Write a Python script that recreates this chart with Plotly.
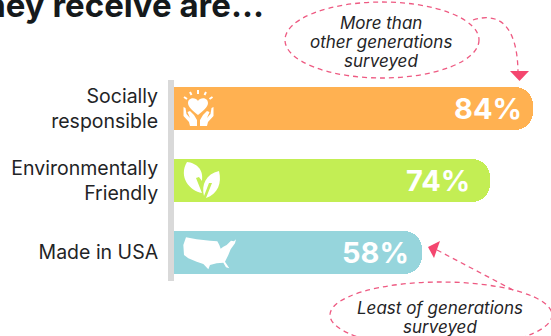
import plotly.graph_objects as go

categories = ["Socially<br>responsible", "Environmentally<br>Friendly", "Made in USA"]
values = [84, 74, 58]
bar_colors = ["#FFB151", "#C3EE54", "#96D5DC"]
value_labels = ["84%", "74%", "58%"]
label_insets = [9, 18, 11]
top_note = ["More than", "other generations", "surveyed"]
bottom_note = ["Least of generations", "surveyed"]

W, H = 551, 336
LEFT, TOP, BOTTOM = 174, 80, 281
PX_PER_PCT = 359 / 84
PINK = "#EE5A82"
ARROW = "#F4466F"
TEXT = "#1F2426"
FONT = "Inter"


def fx(x):
    return (x - LEFT) / (W - LEFT)


def fy(y):
    return 1 - (y - TOP) / (BOTTOM - TOP)


def path(points, close=True):
    d = "M" + " L".join(f"{fx(x):.5f},{fy(y):.5f}" for x, y in points)
    return d + (" Z" if close else "")


def paper_shape(d, fill="white", line=None, width=0, dash=None):
    return dict(type="path", xref="paper", yref="paper", path=d, fillcolor=fill, layer="above",
                line=dict(color=line or "rgba(0,0,0,0)", width=width, dash=dash or "solid"))


def curve(*cmds):
    out = []
    for c, pts in cmds:
        out.append(c + " ".join(f"{fx(x):.5f},{fy(y):.5f}" for x, y in pts))
    return " ".join(out)


shapes = []

# Heart held by two hands
for a, b in [((190, 92), (191.5, 95)), ((198, 90), (198, 94)), ((206, 92), (204.5, 95)),
             ((184, 97), (187, 99)), ((212.5, 97), (209.5, 99))]:
    shapes.append(paper_shape(path([a, b], False), fill="rgba(0,0,0,0)", line="white", width=2))
shapes.append(paper_shape(curve(
    ("M", [(198, 115)]),
    ("C", [(193, 111), (188, 107), (188, 103)]),
    ("C", [(188, 97), (196, 97), (198, 101)]),
    ("C", [(200, 97), (208, 97), (208, 103)]),
    ("C", [(208, 107), (203, 111), (198, 115)]),
) + " Z"))
for sign in (-1, 1):
    hand = [(15, 107), (13, 108), (12, 114), (8.5, 118), (11, 112), (8.5, 111), (4.5, 115),
            (1.5, 120), (1.5, 126), (8.5, 126), (9.5, 122), (15, 116)]
    shapes.append(paper_shape(path([(198.5 + sign * dx, y) for dx, y in hand])))

# Two leaves with cut-in veins
shapes.append(paper_shape(curve(
    ("M", [(187, 162)]),
    ("C", [(196, 163), (204, 169), (202, 181)]),
    ("L", [(199, 177)]),
    ("L", [(196, 178)]),
    ("L", [(202, 193)]),
    ("C", [(190, 191), (178, 177), (187, 162)]),
) + " Z"))
shapes.append(paper_shape(curve(
    ("M", [(219, 171)]),
    ("C", [(222, 183), (218, 194), (206, 198)]),
    ("L", [(212, 183)]),
    ("L", [(209, 183)]),
    ("L", [(204, 196)]),
    ("C", [(201, 185), (206, 174), (219, 171)]),
) + " Z"))

# United States silhouette
usa = [(78, 262), (110, 268), (150, 272), (172, 274), (178, 285), (182, 296), (190, 290),
       (200, 285), (213, 272), (222, 274), (228, 268), (225, 280), (212, 298), (205, 315),
       (195, 335), (208, 355), (198, 352), (190, 338), (170, 340), (150, 345), (145, 358),
       (130, 342), (110, 335), (85, 325), (72, 315), (70, 285)]
shapes.append(paper_shape(path([(160 + x / 3, 150 + y / 3) for x, y in usa])))

# Dashed callouts
for cx, cy, rx, ry in [(382, 40, 97, 38), (441, 315, 111, 33)]:
    shapes.append(dict(type="circle", xref="paper", yref="paper",
                       x0=fx(cx - rx), x1=fx(cx + rx), y0=fy(cy + ry), y1=fy(cy - ry),
                       line=dict(color=PINK, width=1.3, dash="5px,4px"), layer="above"))

shapes.append(paper_shape(curve(
    ("M", [(473, 20)]),
    ("C", [(498, 12), (517, 24), (518, 71)]),
), fill="rgba(0,0,0,0)", line=PINK, width=1.3, dash="5px,4px"))
shapes.append(paper_shape(path([(510, 71), (529, 71), (519.5, 81)]), fill=ARROW))

shapes.append(paper_shape(path([(513, 290), (437, 250)], False), fill="rgba(0,0,0,0)",
                          line=PINK, width=1.3, dash="5px,4px"))
shapes.append(paper_shape(path([(428, 247), (440, 241), (434, 258)]), fill=ARROW))

annotations = [
    dict(xref="paper", yref="paper", x=fx(266), y=fy(5), xanchor="right", yanchor="middle",
         text="<b>they receive are...</b>", showarrow=False,
         font=dict(family=FONT, size=33, color="#15191B")),
]


def note_lines(lines, cx, ys):
    # One annotation per line gives the tighter leading of the callouts
    return [dict(xref="paper", yref="paper", x=fx(cx), y=fy(y), xanchor="center", yanchor="middle",
                 text=f"<i>{t}</i>", showarrow=False,
                 font=dict(family=FONT, size=17, color=TEXT)) for t, y in zip(lines, ys)]


annotations += note_lines(top_note, 381, [23, 42, 61])
annotations += note_lines(bottom_note, 440, [308, 327])

# Percentage labels sit inside the end of each bar
for cat, val, lab, inset in zip(categories, values, value_labels, label_insets):
    annotations.append(dict(x=val, y=cat, xref="x", yref="y", xanchor="right", yanchor="middle",
                            xshift=-inset, text=f"<b>{lab}</b>", showarrow=False,
                            font=dict(family=FONT, size=29, color="white", weight=800)))

fig = go.Figure(go.Bar(
    x=values, y=categories, orientation="h", width=43 / 72,
    marker=dict(color=bar_colors, line=dict(width=0), cornerradius=18),
    hoverinfo="skip",
))

fig.update_layout(
    width=W, height=H, margin=dict(l=LEFT, r=0, t=TOP, b=H - BOTTOM, pad=0),
    paper_bgcolor="white", plot_bgcolor="white", showlegend=False,
    shapes=shapes, annotations=annotations, bargap=0,
    font=dict(family=FONT),
)
fig.update_xaxes(range=[0, (W - LEFT) / PX_PER_PCT], visible=False)
fig.update_yaxes(
    type="category", categoryorder="array", categoryarray=categories,
    range=[2 + (BOTTOM - 252.5) / 72, -(108.5 - TOP) / 72],
    showline=True, linecolor="#D9D9D9", linewidth=6, showgrid=False, zeroline=False,
    ticks="", ticklabelstandoff=6,
    tickfont=dict(family=FONT, size=19.5, color=TEXT),
)

fig.write_html("out.html", config=dict(displayModeBar=False))
